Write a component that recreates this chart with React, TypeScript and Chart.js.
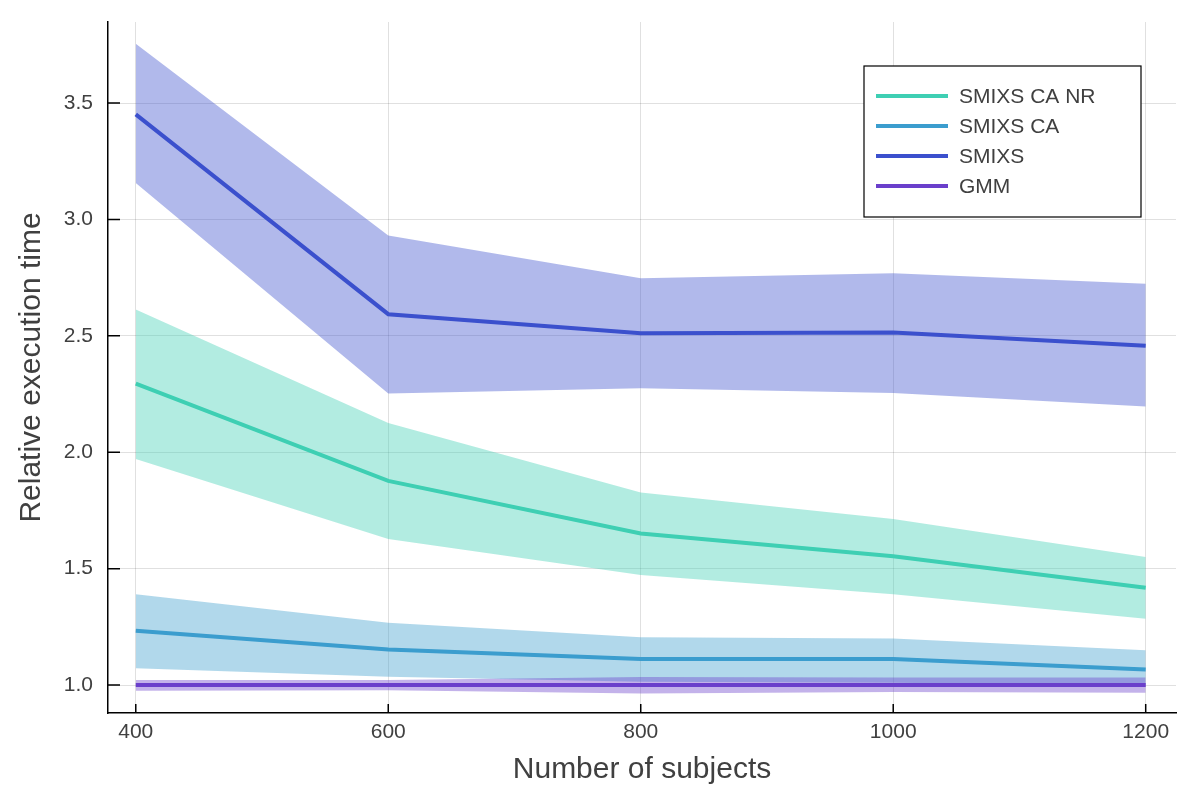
import React, { useRef, useEffect } from 'react';
import { Chart, registerables } from 'chart.js';

Chart.register(...registerables);

const xValues = [400, 600, 800, 1000, 1200];
const xTicks = [400, 600, 800, 1000, 1200];
const yTicks = [1.0, 1.5, 2.0, 2.5, 3.0, 3.5];

const smixsCaNrMean = [2.295, 1.877, 1.651, 1.553, 1.418];
const smixsCaNrUpper = [2.613, 2.126, 1.827, 1.713, 1.55];
const smixsCaNrLower = [1.971, 1.627, 1.473, 1.39, 1.285];

const smixsCaMean = [1.233, 1.153, 1.112, 1.112, 1.067];
const smixsCaUpper = [1.39, 1.268, 1.205, 1.2, 1.15];
const smixsCaLower = [1.072, 1.036, 1.014, 1.01, 0.998];

const smixsMean = [3.451, 2.593, 2.511, 2.514, 2.457];
const smixsUpper = [3.755, 2.931, 2.747, 2.769, 2.724];
const smixsLower = [3.157, 2.252, 2.275, 2.255, 2.197];

const gmmMean = [1.0, 1.0, 1.0, 1.0, 1.0];
const gmmUpper = [1.022, 1.022, 1.035, 1.032, 1.033];
const gmmLower = [0.976, 0.978, 0.964, 0.97, 0.967];

const seriesNames = ['SMIXS CA NR', 'SMIXS CA', 'SMIXS', 'GMM'];
const seriesColors = ['#3ecfb3', '#3b9dce', '#3b50cd', '#6a3fcb'];
const bandColors = [
  'rgba(62, 207, 179, 0.4)',
  'rgba(59, 157, 206, 0.4)',
  'rgba(59, 80, 205, 0.4)',
  'rgba(106, 63, 203, 0.4)',
];

const TEXT = '#404040';
const FONT = "'Liberation Sans', Arial, Helvetica, sans-serif";

const toPoints = (ys: number[]) => xValues.map((x, i) => ({ x, y: ys[i] }));

// ticks drawn on the inside of the axes, like the original
const innerTicks = {
  id: 'innerTicks',
  afterDraw(chart: any) {
    const { ctx, chartArea, scales } = chart;
    ctx.save();
    ctx.strokeStyle = '#000';
    ctx.lineWidth = 1.5;
    ctx.beginPath();
    yTicks.forEach((v) => {
      const py = scales.y.getPixelForValue(v);
      ctx.moveTo(chartArea.left, py);
      ctx.lineTo(chartArea.left + 12, py);
    });
    xTicks.forEach((v) => {
      const px = scales.x.getPixelForValue(v);
      ctx.moveTo(px, chartArea.bottom);
      ctx.lineTo(px, chartArea.bottom - 9);
    });
    ctx.stroke();
    ctx.restore();
  },
};

const legendBox = {
  id: 'legendBox',
  afterDraw(chart: any) {
    const { ctx, chartArea } = chart;
    const w = 277;
    const h = 151;
    const x = chartArea.right - 35 - w;
    const y = chartArea.top + 44;
    ctx.save();
    ctx.fillStyle = '#fff';
    ctx.fillRect(x, y, w, h);
    ctx.strokeStyle = '#000';
    ctx.lineWidth = 1.2;
    ctx.strokeRect(x, y, w, h);
    ctx.font = `21px ${FONT}`;
    ctx.textBaseline = 'middle';
    ctx.fillStyle = TEXT;
    seriesNames.forEach((name, i) => {
      const cy = y + 30 + i * 30;
      ctx.strokeStyle = seriesColors[i];
      ctx.lineWidth = 4;
      ctx.beginPath();
      ctx.moveTo(x + 12, cy);
      ctx.lineTo(x + 84, cy);
      ctx.stroke();
      ctx.fillText(name, x + 95, cy + 1);
    });
    ctx.restore();
  },
};

const App: React.FC = () => {
  const chartRef = useRef<HTMLCanvasElement>(null);
  const chartInstance = useRef<Chart | null>(null);

  useEffect(() => {
    if (!chartRef.current) return;
    const ctx = chartRef.current.getContext('2d');
    if (!ctx) return;
    if (chartInstance.current) chartInstance.current.destroy();

    const groups = [
      [smixsCaNrUpper, smixsCaNrLower, smixsCaNrMean],
      [smixsCaUpper, smixsCaLower, smixsCaMean],
      [smixsUpper, smixsLower, smixsMean],
      [gmmUpper, gmmLower, gmmMean],
    ];

    const datasets: any[] = [];
    groups.forEach(([upper, lower, mean], i) => {
      const base = (4 - i) * 10;
      datasets.push({
        label: seriesNames[i] + ' upper',
        data: toPoints(upper),
        borderWidth: 0,
        pointRadius: 0,
        backgroundColor: bandColors[i],
        fill: '+1',
        order: base + 3,
      });
      datasets.push({
        label: seriesNames[i] + ' lower',
        data: toPoints(lower),
        borderWidth: 0,
        pointRadius: 0,
        fill: false,
        order: base + 2,
      });
      datasets.push({
        label: seriesNames[i],
        data: toPoints(mean),
        borderColor: seriesColors[i],
        borderWidth: 4,
        pointRadius: 0,
        fill: false,
        order: base + 1,
      });
    });

    chartInstance.current = new Chart(ctx, {
      type: 'line',
      data: { datasets },
      plugins: [innerTicks, legendBox],
      options: {
        animation: false,
        responsive: true,
        maintainAspectRatio: false,
        layout: { padding: { top: 22, right: 24, left: 0, bottom: 0 } },
        plugins: {
          legend: { display: false },
          tooltip: { enabled: false },
        },
        scales: {
          x: {
            type: 'linear',
            min: 378,
            max: 1224,
            afterBuildTicks: (scale: any) => {
              scale.ticks = xTicks.map((v) => ({ value: v }));
            },
            afterFit: (scale: any) => {
              scale.height = 87;
              scale.paddingLeft = 0;
              scale.paddingRight = 0;
            },
            grid: { color: 'rgba(0,0,0,0.12)', lineWidth: 1, drawTicks: false },
            border: { display: true, color: '#000', width: 1.5 },
            ticks: {
              padding: 7,
              color: TEXT,
              font: { family: FONT, size: 21 },
              maxRotation: 0,
              callback: (v: any) => String(v),
            },
            title: {
              display: true,
              text: 'Number of subjects',
              color: TEXT,
              font: { family: FONT, size: 30 },
              padding: { top: 0, bottom: 12 },
            },
          },
          y: {
            type: 'linear',
            min: 0.88,
            max: 3.848,
            afterBuildTicks: (scale: any) => {
              scale.ticks = yTicks.map((v) => ({ value: v }));
            },
            afterFit: (scale: any) => {
              scale.width = 108;
              scale.paddingTop = 0;
              scale.paddingBottom = 0;
            },
            grid: { color: 'rgba(0,0,0,0.12)', lineWidth: 1, drawTicks: false },
            border: { display: true, color: '#000', width: 1.5 },
            ticks: {
              padding: 15,
              color: TEXT,
              font: { family: FONT, size: 21 },
              callback: (v: any) => Number(v).toFixed(1),
            },
            title: {
              display: true,
              text: 'Relative execution time',
              color: TEXT,
              font: { family: FONT, size: 30 },
              padding: { top: 14, bottom: 0 },
            },
          },
        },
      },
    });

    return () => {
      if (chartInstance.current) {
        chartInstance.current.destroy();
        chartInstance.current = null;
      }
    };
  }, []);

  return (
    <div style={{ position: 'fixed', left: 0, top: 0, width: 1200, height: 800, background: '#fff' }}>
      <canvas ref={chartRef} />
    </div>
  );
};

export default App;
